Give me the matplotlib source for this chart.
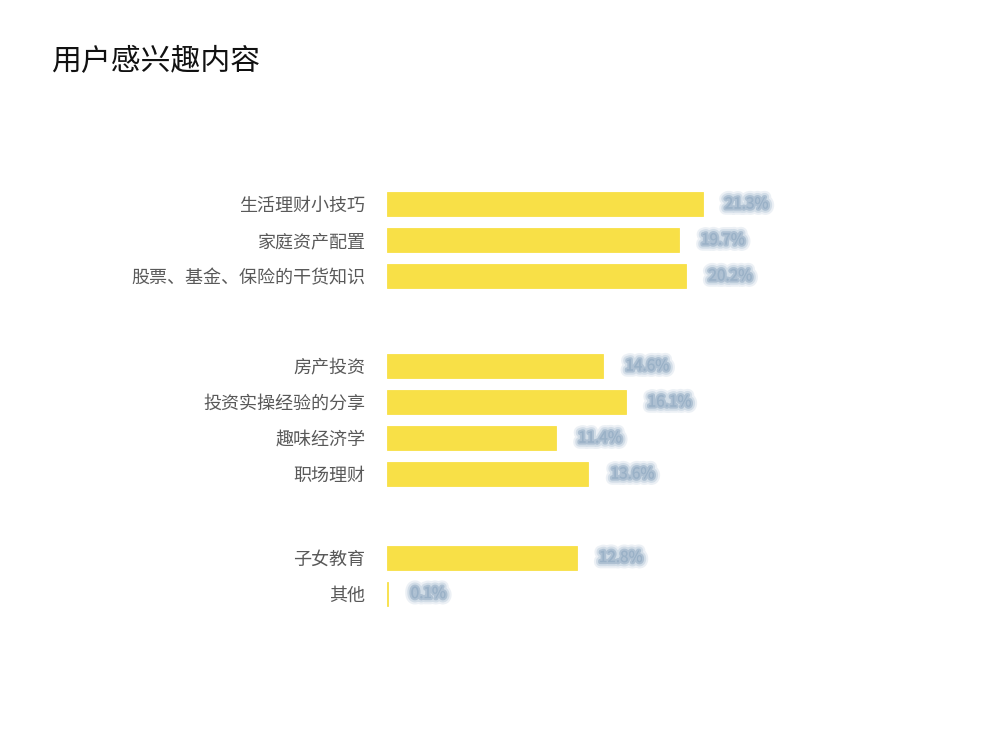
import matplotlib
matplotlib.use("Agg")
import matplotlib.pyplot as plt
import matplotlib.patheffects as pe

plt.rcParams['font.family'] = ['Noto Sans CJK SC', 'DejaVu Sans']

title = '用户感兴趣内容'
groups = [
    ['生活理财小技巧', '家庭资产配置', '股票、基金、保险的干货知识'],
    ['房产投资', '投资实操经验的分享', '趣味经济学', '职场理财'],
    ['子女教育', '其他'],
]
values = [21.3, 19.7, 20.2, 14.6, 16.1, 11.4, 13.6, 12.8, 0.1]
group_gaps = [2.5, 2.32]

bar_color = '#F8E047'
label_color = '#b4c7d8'

# y slots, with extra space between groups
cats, ypos = [], []
y = 0.0
for gi, g in enumerate(groups):
    for name in g:
        cats.append(name)
        ypos.append(y)
        y += 1
    if gi < len(group_gaps):
        y += group_gaps[gi] - 1

fig = plt.figure(figsize=(10, 7.44), dpi=100)
ax = fig.add_axes([0.387, 0.178, 0.4, 0.572])

ax.barh(ypos, values, height=0.67, color=bar_color, edgecolor=bar_color, linewidth=0.6)
ax.set_xlim(0, 27)
ax.set_ylim(ypos[-1] + 0.5, -0.5)

ax.set_yticks(ypos)
ax.set_yticklabels(cats, fontsize=13, color='#595959')
ax.tick_params(axis='y', length=0, pad=15.5)
ax.set_xticks([])
for s in ax.spines.values():
    s.set_visible(False)

# value labels are blurred in the original
blur = [pe.Stroke(linewidth=9, foreground=label_color, alpha=0.25),
        pe.Stroke(linewidth=6, foreground=label_color, alpha=0.45),
        pe.Stroke(linewidth=3, foreground='#9fb5ca', alpha=0.7),
        pe.Normal()]
for yy, v in zip(ypos, values):
    ax.text(v + 1.5, yy, f'{v:.1f}%', va='center', ha='left', fontsize=11,
            color='#9ab1c7', path_effects=blur)

fig.text(0.051, 1 - 62 / 744, title, fontsize=21.5, color='#111111', va='center')

fig.savefig('out.png', dpi=100, facecolor='white')
